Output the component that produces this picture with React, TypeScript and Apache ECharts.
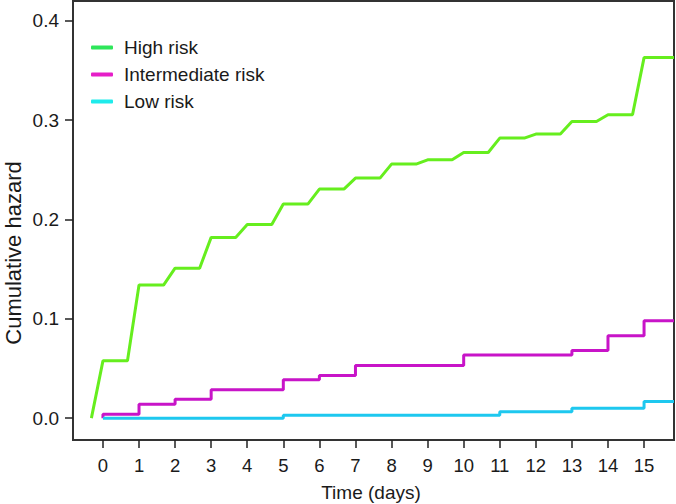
import React, { useEffect, useRef } from "react";
import * as echarts from "echarts";

const seriesNames = ["High risk", "Intermediate risk", "Low risk"];

// High risk: one value per day (cumulative hazard level reached at that day)
const highRiskDays = [0, 1, 2, 3, 4, 5, 6, 7, 8, 9, 10, 11, 12, 13, 14, 15];
const highRisk = [
  0.0577, 0.134, 0.151, 0.182, 0.195, 0.2155, 0.2306, 0.2417, 0.2558, 0.2601,
  0.2675, 0.282, 0.286, 0.2987, 0.3054, 0.363,
];

// Intermediate risk: event times and cumulative hazard after each
const intermediateTimes = [0, 1, 2, 3, 5, 6, 7, 10, 13, 14, 15];
const intermediateRisk = [
  0.004, 0.014, 0.019, 0.0285, 0.0386, 0.043, 0.053, 0.0637, 0.068, 0.083, 0.098,
];

// Low risk
const lowTimes = [0, 5, 11, 13, 15];
const lowRisk = [0, 0.003, 0.0065, 0.01, 0.0167];

const xTicks = [0, 1, 2, 3, 4, 5, 6, 7, 8, 9, 10, 11, 12, 13, 14, 15];
const yTicks = [0, 0.1, 0.2, 0.3, 0.4];

const X_MIN = -0.83;
const X_MAX = 15.83;
const Y_MIN = -0.022;
const Y_MAX = 0.42;
const HOLD = 0.68; // fraction of a day the high-risk level is held before rising

const lineColors = ["#66ee1e", "#c814c8", "#1ec8ef"];
const legendColors = ["#2ee65a", "#e61ec8", "#1eebeb"];
const FONT = "Liberation Sans";

function slantedSteps(days: number[], vals: number[]): number[][] {
  const pts: number[][] = [[days[0] - 1 + HOLD, 0]];
  for (let i = 0; i < days.length; i++) {
    pts.push([days[i], vals[i]]);
    pts.push([i < days.length - 1 ? days[i] + HOLD : X_MAX, vals[i]]);
  }
  return pts;
}

function steps(times: number[], vals: number[]): number[][] {
  const pts: number[][] = [[times[0], 0]];
  for (let i = 0; i < times.length; i++) {
    if (i > 0) pts.push([times[i], vals[i - 1]]);
    pts.push([times[i], vals[i]]);
  }
  pts.push([X_MAX, vals[vals.length - 1]]);
  return pts;
}

export default function App() {
  const ref = useRef<HTMLDivElement>(null);
  useEffect(() => {
    if (!ref.current) return;
    const chart = echarts.init(ref.current, undefined, { renderer: "svg" });
    const data = [
      slantedSteps(highRiskDays, highRisk),
      steps(intermediateTimes, intermediateRisk),
      steps(lowTimes, lowRisk),
    ];
    chart.setOption({
      animation: false,
      backgroundColor: "#ffffff",
      grid: {
        left: 73,
        right: 2,
        top: 1,
        bottom: 64,
        show: true,
        borderColor: "#333",
        borderWidth: 2,
        backgroundColor: "transparent",
      },
      legend: {
        orient: "vertical",
        left: 86,
        top: 33,
        icon: "roundRect",
        itemWidth: 22,
        itemHeight: 4,
        itemGap: 8,
        textStyle: {
          fontFamily: FONT,
          fontSize: 19,
          color: "#1a1a1a",
          padding: [0, 0, 0, 6],
        },
        data: seriesNames.map((n, i) => ({
          name: n,
          itemStyle: { color: legendColors[i] },
        })),
      },
      xAxis: {
        type: "value",
        min: X_MIN,
        max: X_MAX,
        axisLine: { show: false, onZero: false },
        splitLine: { show: false },
        axisTick: {
          show: true,
          length: 8,
          lineStyle: { color: "#222", width: 1.5 },
          customValues: xTicks,
        },
        axisLabel: {
          customValues: xTicks,
          formatter: (v: number) => String(v),
          fontFamily: FONT,
          fontSize: 18.5,
          color: "#1a1a1a",
          margin: 16,
        },
      },
      yAxis: {
        type: "value",
        min: Y_MIN,
        max: Y_MAX,
        axisLine: { show: false, onZero: false },
        splitLine: { show: false },
        axisTick: {
          show: true,
          length: 8,
          lineStyle: { color: "#222", width: 1.5 },
          customValues: yTicks,
        },
        axisLabel: {
          customValues: yTicks,
          formatter: (v: number) => v.toFixed(1),
          fontFamily: FONT,
          fontSize: 19,
          color: "#1a1a1a",
          margin: 14,
        },
      },
      graphic: [
        {
          type: "text",
          x: 371,
          y: 492,
          style: {
            text: "Time (days)",
            fontFamily: FONT,
            fontSize: 19,
            fill: "#1a1a1a",
            align: "center",
            verticalAlign: "middle",
          },
        },
        {
          type: "text",
          x: 13,
          y: 253,
          rotation: Math.PI / 2,
          style: {
            text: "Cumulative hazard",
            fontFamily: FONT,
            fontSize: 22,
            fill: "#1a1a1a",
            align: "center",
            verticalAlign: "middle",
          },
        },
      ],
      series: seriesNames.map((n, i) => ({
        name: n,
        type: "line",
        data: data[i],
        symbol: "none",
        showSymbol: false,
        color: lineColors[i],
        lineStyle: { color: lineColors[i], width: 3 },
      })),
    });
    return () => chart.dispose();
  }, []);
  return <div ref={ref} style={{ width: 676, height: 504, position: "absolute", left: 0, top: 0 }} />;
}
